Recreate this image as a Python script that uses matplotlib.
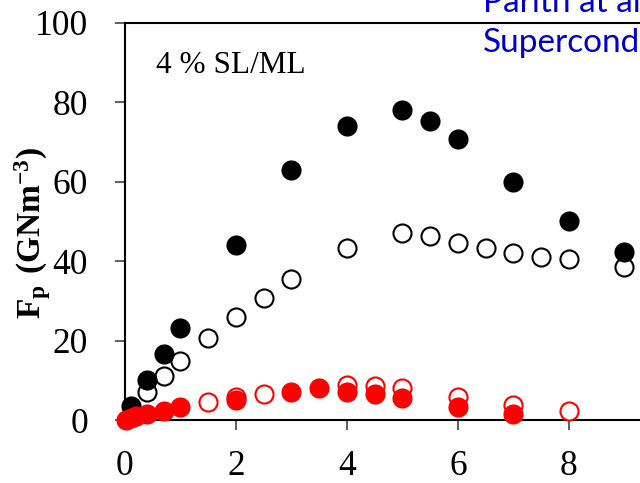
import matplotlib
matplotlib.use('Agg')
import matplotlib.pyplot as plt

# pinning force vs field, 4 % SL/ML sample
bf_x = [0.1, 0.4, 0.7, 1.0, 2, 3, 4, 5, 5.5, 6, 7, 8, 9]
bf_y = [3.5, 10.2, 16.7, 23.2, 44, 63, 74, 78.1, 75.3, 70.8, 60, 50.1, 42.3]
bo_x = [0.4, 0.7, 1.0, 1.5, 2, 2.5, 3, 4, 5, 5.5, 6, 6.5, 7, 7.5, 8, 9]
bo_y = [7.0, 11.1, 14.9, 20.6, 26, 30.8, 35.5, 43.3, 47.1, 46.3, 44.6, 43.3, 42.1, 41.1, 40.6, 38.6]
ro_x = [1.5, 2, 2.5, 4, 4.5, 5, 6, 7, 8]
ro_y = [4.6, 5.9, 6.5, 8.8, 8.6, 8.1, 5.9, 3.8, 2.3]
rf_x = [0.02, 0.1, 0.2, 0.4, 0.7, 1.0, 2, 3, 3.5, 4, 4.5, 5, 6, 7]
rf_y = [0, 0.5, 1.0, 1.5, 2.3, 3.2, 5.0, 7.1, 8.0, 7.1, 6.5, 5.6, 3.3, 1.5]

yticks = [0, 20, 40, 60, 80, 100]
xticks = [0, 2, 4, 6, 8, 10]

plt.rcParams['font.family'] = 'Liberation Serif'
plt.rcParams['mathtext.fontset'] = 'custom'
plt.rcParams['mathtext.rm'] = 'Liberation Serif'
plt.rcParams['mathtext.bf'] = 'Liberation Serif:bold'

fig = plt.figure(figsize=(6.4, 4.83), dpi=100)
ax = fig.add_axes([0.1953, 0.1304, 0.8672, 0.822])

ax.plot(bo_x, bo_y, 'o', ms=13, mfc='white', mec='black', mew=1.5, clip_on=False, zorder=3)
ax.plot(bf_x, bf_y, 'o', ms=14.5, mfc='black', mec='black', mew=0, clip_on=False, zorder=4)
ax.plot(ro_x, ro_y, 'o', ms=13, mfc='white', mec='red', mew=1.5, clip_on=False, zorder=5)
ax.plot(rf_x, rf_y, 'o', ms=14.5, mfc='red', mec='red', mew=0, clip_on=False, zorder=6)

ax.set_xlim(0, 10)
ax.set_ylim(0, 100)
ax.set_xticks(xticks)
ax.set_yticks(yticks)
ax.tick_params(direction='out', length=7.5, width=1.1, color='#333333', labelsize=25.5)
ax.tick_params(axis='x', pad=14)
ax.tick_params(axis='y', pad=19)
for s in ax.spines.values():
    s.set_linewidth(1.5)

ax.set_ylabel(r'$\mathbf{F_p\ (GNm^{-3})}$', fontsize=24)
ax.yaxis.set_label_coords(-0.13, 0.47)

ax.text(0.056, 0.874, '4 % SL/ML', transform=ax.transAxes, fontsize=22.5)

# slide text overlapping the figure
fig.text(483 / 640, 1 - 12 / 483, 'Parith at al', color='#0000CC', family='Lato', fontsize=24)
fig.text(483 / 640, 1 - 52 / 483, 'Superconductors', color='#0000CC', family='Lato', fontsize=24)

fig.savefig('out.png', dpi=100)
